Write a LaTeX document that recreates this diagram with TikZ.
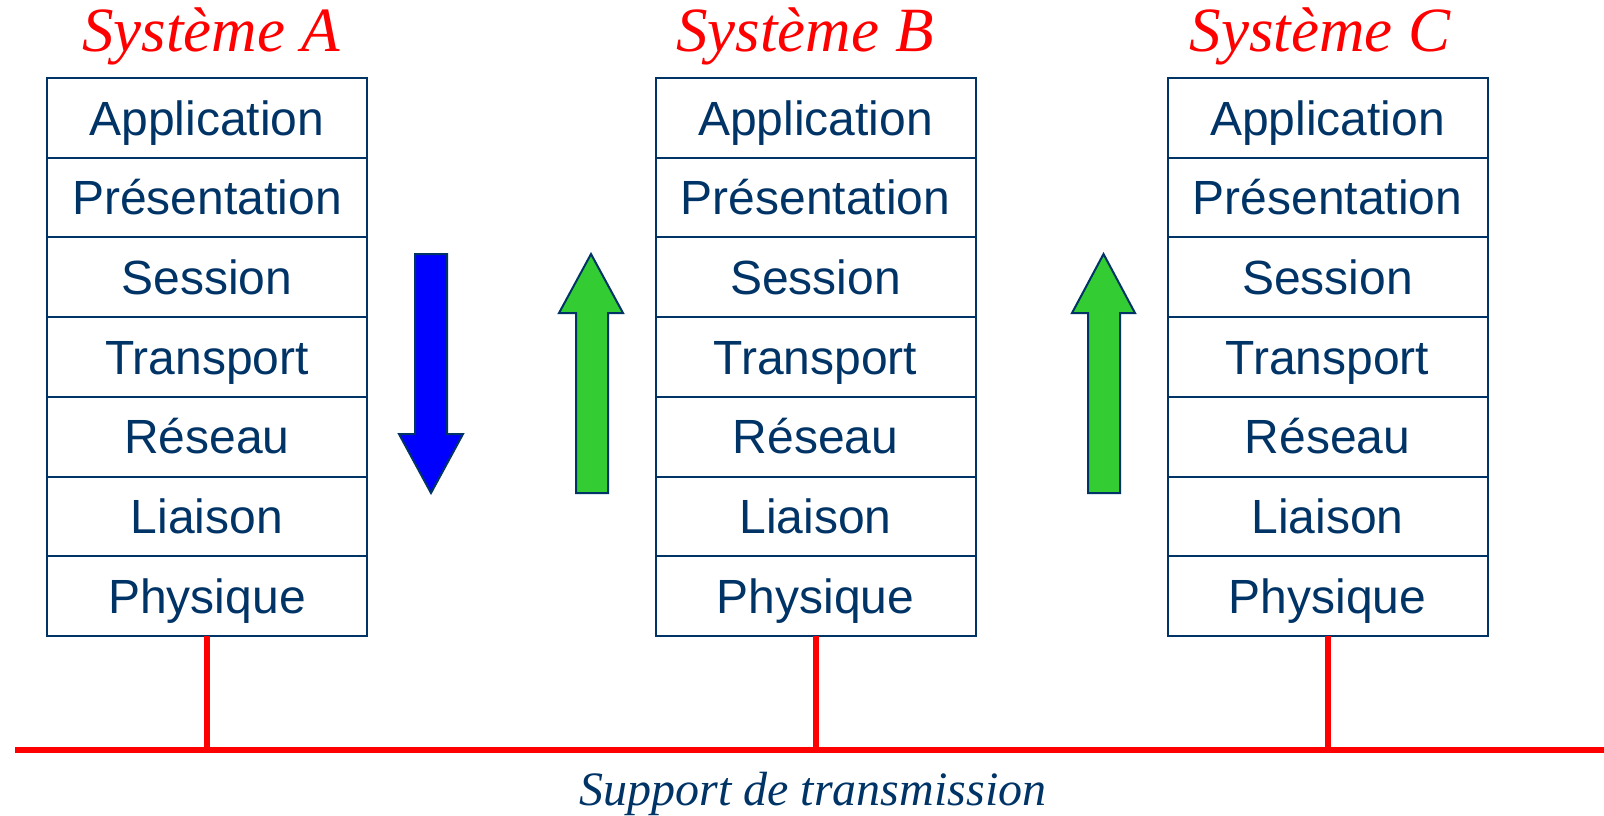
\documentclass[tikz,border=0pt]{standalone}
\usepackage{fontspec}
\setmainfont{Liberation Serif}
\setsansfont{Liberation Sans}
\definecolor{ink}{RGB}{0,51,102}
\definecolor{upgreen}{RGB}{51,204,51}
\tikzset{
  layer/.style={draw=ink, line width=1pt, fill=white, text=ink, font=\sffamily\fontsize{24}{28}\selectfont,
    minimum width=160pt, minimum height=39.86pt, inner sep=0pt, outer sep=0pt,
    text height=17.2pt, text depth=0pt},
  systitle/.style={text=red, font=\itshape\fontsize{31.5}{36}\selectfont, anchor=base, inner sep=0pt},
  bus/.style={draw=red, line width=3.4pt},
  flow/.style={draw=ink, line width=1pt, line join=miter},
}
\begin{document}
\begin{tikzpicture}[x=0.5pt, y=-0.5pt]
  \useasboundingbox (0,0) rectangle (1604,815);
  % the three seven-layer stacks
  \foreach \sys/\cx/\tx/\lbl in {A/207/211/Système A, B/815.5/805/Système B, C/1327.5/1320/Système C} {
    \foreach \t [count=\i] in {Application,Présentation,Session,Transport,Réseau,Liaison,Physique} {
      \node[layer] (\sys\i) at (\cx, {78+79.71*(\i-0.5)}) {\t};
    }
    \node[systitle] (title\sys) at (\tx, 51) {\lbl};
  }
  % transmission medium
  \coordinate (busL) at (15,750);
  \coordinate (busR) at (1604,750);
  \draw[bus] (busL) -- (busR);
  \foreach \sys in {A,B,C} {
    \draw[bus, line width=3pt] (\sys7.south) -- (\sys7.south |- busL);
  }
  \node[text=ink, font=\itshape\fontsize{24}{28}\selectfont, anchor=base, inner sep=0pt] (medium) at (813,805) {Support de transmission};
  % direction of the data flow
  \filldraw[flow, fill=blue] (415,254) -- (447,254) -- (447,434) -- (463,434) -- (431,493) -- (399,434) -- (415,434) -- cycle;
  \filldraw[flow, fill=upgreen] (576,493) -- (608,493) -- (608,313) -- (623,313) -- (591,254) -- (559,313) -- (576,313) -- cycle;
  \filldraw[flow, fill=upgreen] (1088,493) -- (1120,493) -- (1120,313) -- (1135,313) -- (1103.5,254) -- (1072,313) -- (1088,313) -- cycle;
\end{tikzpicture}
\end{document}
